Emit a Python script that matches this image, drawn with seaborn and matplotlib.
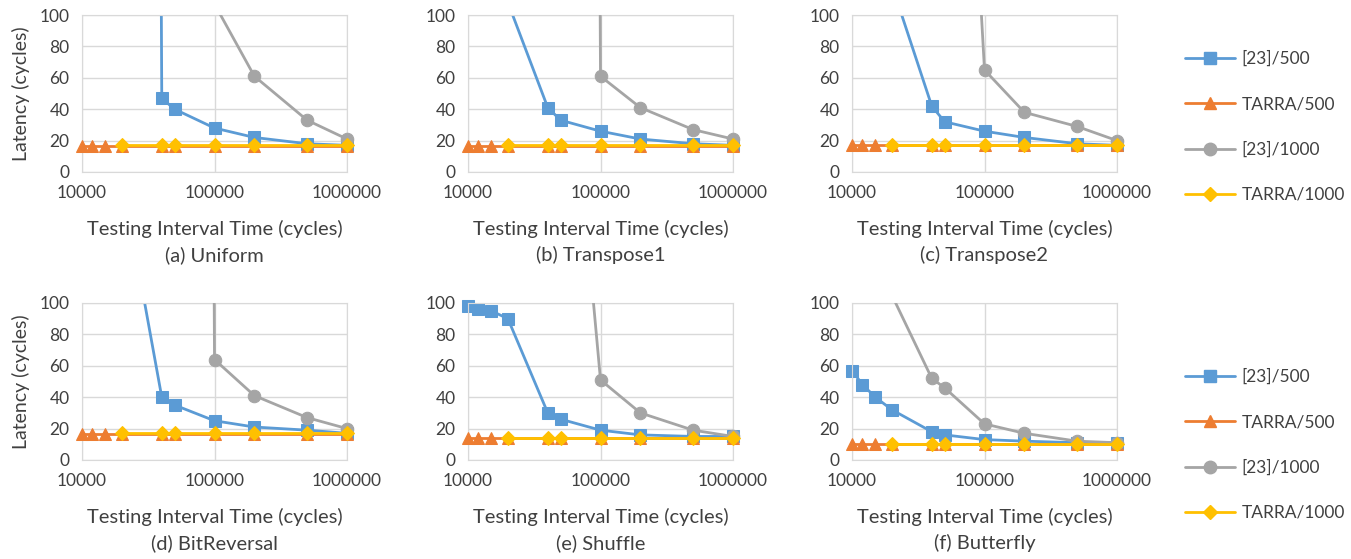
import numpy as np
import matplotlib
matplotlib.use("Agg")
import matplotlib.pyplot as plt
import seaborn as sns
from matplotlib.lines import Line2D
from matplotlib.ticker import NullLocator

sns.set_style("white")
plt.rcParams['font.family'] = ['Lato', 'DejaVu Sans']

nan = np.nan
interval = [10000, 12000, 15000, 20000, 40000, 50000, 100000, 200000, 500000, 1000000]

# (a) Uniform
a_ref500 = [nan, nan, nan, 5000, 47, 40, 28, 22, 18, 17]
a_tarra500 = [16.5, 16.5, 16.5, 16.5, 16.5, 16.5, 16.5, 16.5, 16.5, 16.5]
a_ref1000 = [nan, nan, nan, nan, nan, nan, 107, 61, 33, 21]
a_tarra1000 = [nan, nan, nan, 17, 17, 17, 17, 17, 17, 17]
# (b) Transpose1
b_ref500 = [nan, nan, nan, 108, 41, 33, 26, 21, 18, 17]
b_tarra500 = [16.5, 16.5, 16.5, 16.5, 16.5, 16.5, 16.5, 16.5, 16.5, 16.5]
b_ref1000 = [nan, nan, nan, nan, nan, 5000, 61, 41, 27, 21]
b_tarra1000 = [nan, nan, nan, 17, 17, 17, 17, 17, 17, 17]
# (c) Transpose2
c_ref500 = [nan, nan, nan, 119, 42, 32, 26, 22, 18, 17]
c_tarra500 = [17, 17, 17, 17, 17, 17, 17, 17, 17, 17]
c_ref1000 = [nan, nan, nan, nan, nan, 520, 65, 38, 29, 20]
c_tarra1000 = [nan, nan, nan, 17, 17, 17, 17, 17, 17, 17]
# (d) BitReversal
d_ref500 = [nan, nan, nan, 180, 40, 35, 25, 21, 19, 17]
d_tarra500 = [16.5, 16.5, 16.5, 16.5, 16.5, 16.5, 16.5, 16.5, 16.5, 16.5]
d_ref1000 = [nan, nan, nan, nan, nan, 5000, 64, 41, 27, 20]
d_tarra1000 = [nan, nan, nan, 17, 17, 17, 17, 17, 17, 17]
# (e) Shuffle
e_ref500 = [98, 96, 95, 90, 30, 26, 19, 16, 15, 15]
e_tarra500 = [14, 14, 14, 14, 14, 14, 14, 14, 14, 14]
e_ref1000 = [nan, nan, nan, nan, nan, 330, 51, 30, 19, 15]
e_tarra1000 = [nan, nan, nan, 14, 14, 14, 14, 14, 14, 14]
# (f) Butterfly
f_ref500 = [57, 48, 40, 32, 18, 16, 13, 12, 11, 11]
f_tarra500 = [10, 10, 10, 10, 10, 10, 10, 10, 10, 10]
f_ref1000 = [nan, nan, nan, 105, 52, 46, 23, 17, 12, 11]
f_tarra1000 = [nan, nan, nan, 10.5, 10.5, 10.5, 10.5, 10.5, 10.5, 10.5]

titles = ["(a) Uniform", "(b) Transpose1", "(c) Transpose2",
          "(d) BitReversal", "(e) Shuffle", "(f) Butterfly"]
series_names = ["[23]/500", "TARRA/500", "[23]/1000", "TARRA/1000"]
panels = [
    [a_ref500, a_tarra500, a_ref1000, a_tarra1000],
    [b_ref500, b_tarra500, b_ref1000, b_tarra1000],
    [c_ref500, c_tarra500, c_ref1000, c_tarra1000],
    [d_ref500, d_tarra500, d_ref1000, d_tarra1000],
    [e_ref500, e_tarra500, e_ref1000, e_tarra1000],
    [f_ref500, f_tarra500, f_ref1000, f_tarra1000],
]

colors = ['#5B9BD5', '#ED7D31', '#A5A5A5', '#FFC000']
markers = ['s', '^', 'o', 'D']
msizes = [8.5, 9, 9, 7]
grid_c = '#D9D9D9'
text_c = '#404040'

W, H = 1351, 559
fig = plt.figure(figsize=(W / 100, H / 100), dpi=100)

lefts = [82, 468, 852]
tops = [15, 303]
ax_w, ax_h = 265, 157
xs = np.array(interval, dtype=float)

for k, (data, title) in enumerate(zip(panels, titles)):
    row, col = divmod(k, 3)
    l, t = lefts[col], tops[row]
    ax = fig.add_axes([l / W, 1 - (t + ax_h) / H, ax_w / W, ax_h / H])
    for z, (vals, c, m, ms) in enumerate(zip(data, colors, markers, msizes)):
        v = np.array(vals, dtype=float)
        # line, clipped to the plot area
        sns.lineplot(x=xs, y=v, ax=ax, color=c, linewidth=2, legend=False,
                     zorder=2 + z)
        # markers for points in range, not clipped (as in Excel)
        inside = (v >= 0) & (v <= 100)
        sns.lineplot(x=xs[inside], y=v[inside], ax=ax, color=c, marker=m,
                     markersize=ms, markeredgecolor=c, linestyle='',
                     legend=False, clip_on=False, zorder=2 + z)
    ax.set_xscale('log')
    ax.set_xlim(1e4, 1e6)
    ax.set_ylim(0, 100)
    ax.set_xticks([1e4, 1e5, 1e6])
    ax.set_xticklabels(['10000', '100000', '1000000'])
    ax.xaxis.set_minor_locator(NullLocator())
    ax.set_yticks([0, 20, 40, 60, 80, 100])
    ax.grid(True, color=grid_c, lw=1)
    ax.set_axisbelow(True)
    for s in ax.spines.values():
        s.set_color(grid_c)
    ax.tick_params(length=0, labelsize=12.5, colors=text_c, pad=9)
    ax.set_xlabel("")
    if col == 0:
        ax.set_ylabel("Latency (cycles)", fontsize=14, color=text_c, labelpad=7)
    ax.text(0.5, -0.36, "Testing Interval Time (cycles)", transform=ax.transAxes,
            ha='center', va='center', fontsize=14.5, color=text_c)
    ax.text(0.5, -0.53, title, transform=ax.transAxes,
            ha='center', va='center', fontsize=14.5, color=text_c)

handles = [Line2D([], [], color=c, marker=m, markersize=ms, markeredgecolor=c, lw=2)
           for c, m, ms in zip(colors, markers, msizes)]
for yc in [127, 445]:
    fig.legend(handles, series_names, loc='center left',
               bbox_to_anchor=(1178 / W, 1 - yc / H), frameon=False,
               fontsize=12.5, labelspacing=1.68, handlelength=2.9,
               handletextpad=0.35, labelcolor=text_c, borderaxespad=0)

fig.savefig("out.png", dpi=100)
